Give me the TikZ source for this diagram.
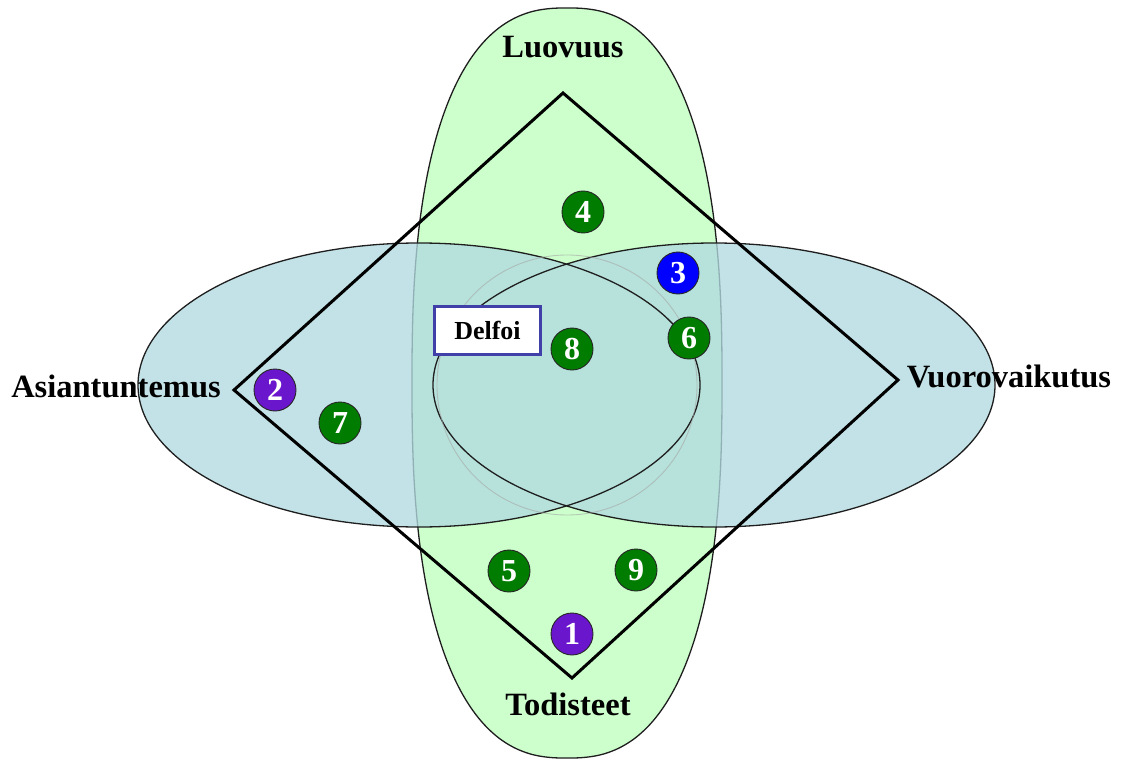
\documentclass[tikz,border=0pt]{standalone}
\usepackage{fontspec}
\setmainfont{Liberation Serif}
\definecolor{mint}{RGB}{204,255,204}
\definecolor{powder}{RGB}{178,218,224}
\definecolor{edge}{RGB}{30,30,30}
\definecolor{dotgreen}{RGB}{0,125,0}
\definecolor{dotpurple}{RGB}{106,22,204}
\definecolor{dotblue}{RGB}{0,0,255}
\definecolor{boxblue}{RGB}{64,64,168}
\tikzset{
  lbl/.style={font=\fontsize{32.5}{38}\selectfont\bfseries, inner sep=0pt, anchor=base},
  num/.style={circle, draw=black!85, line width=0.9pt, minimum size=42pt, inner sep=0pt,
              text=white, font=\fontsize{32}{38}\selectfont\bfseries},
  greendot/.style={num, fill=dotgreen},
  purpledot/.style={num, fill=dotpurple},
  bluedot/.style={num, fill=dotblue},
  ringedge/.style={draw=edge, line width=1.3pt},
}
\begin{document}
\begin{tikzpicture}[x=1pt,y=-1pt]
\useasboundingbox (0,0) rectangle (1123,759);

% tall rounded oval (superellipse): Luovuus / Todisteet
\draw[fill=mint, ringedge]
  plot[domain=1:359, samples=180, smooth cycle, variable=\t]
  ({567+155*sign(cos(\t))*pow(abs(cos(\t)),0.8)},
   {383+375*sign(sin(\t))*pow(abs(sin(\t)),0.8)});

% wide ovals: Asiantuntemus and Vuorovaikutus (shared translucent layer)
\begin{scope}[transparency group, opacity=0.78]
  \fill[powder] (419,385) ellipse [x radius=281, y radius=142];
  \fill[powder] (714,385) ellipse [x radius=281, y radius=142];
\end{scope}
\draw[ringedge] (419,385) ellipse [x radius=281, y radius=142];
\draw[ringedge] (714,385) ellipse [x radius=281, y radius=142];

% faint ring in the common centre
\draw[black!35, draw opacity=0.6, line width=0.9pt] (567,385) circle [radius=130];

% diamond joining the four poles
\coordinate (dtop) at (563,93);
\coordinate (dright) at (898,380);
\coordinate (dbottom) at (572,678);
\coordinate (dleft) at (234,390);
\draw[black, line width=3pt, line join=miter] (dtop) -- (dright) -- (dbottom) -- (dleft) -- cycle;

% pole labels
\node[lbl] (luovuus) at (563,58) {Luovuus};
\node[lbl] (todisteet) at (568,715) {Todisteet};
\node[lbl] (asiantuntemus) at (116,397) {Asiantuntemus};
\node[lbl] (vuorovaikutus) at (1009,387) {Vuorovaikutus};

% numbered markers
\node[purpledot] (n1) at (572,634) {1};
\node[purpledot] (n2) at (275,390) {2};
\node[bluedot]   (n3) at (678,273) {3};
\node[greendot]  (n4) at (583,212) {4};
\node[greendot]  (n5) at (509,571) {5};
\node[greendot]  (n6) at (689,338) {6};
\node[greendot]  (n7) at (340,423) {7};
\node[greendot]  (n8) at (572,349) {8};
\node[greendot]  (n9) at (636,570) {9};

% Delfoi box
\node[draw=boxblue, line width=2.7pt, fill=white, minimum width=106pt, minimum height=48pt,
      inner sep=0pt, font=\fontsize{26}{30}\selectfont\bfseries] (delfoi) at (487.5,330.5) {Delfoi};
\end{tikzpicture}
\end{document}
